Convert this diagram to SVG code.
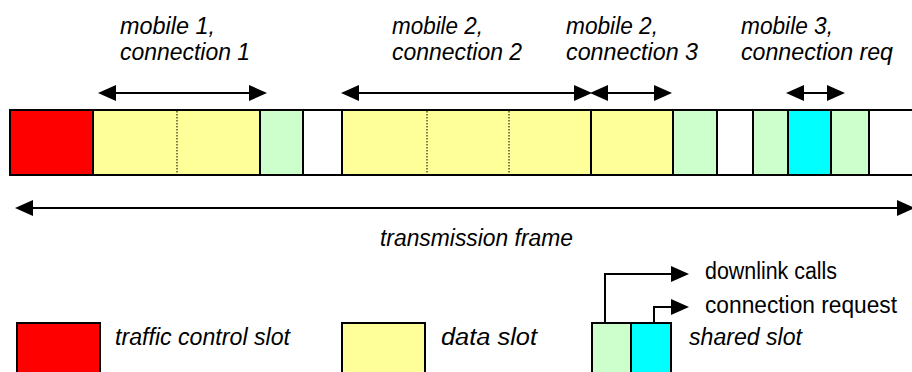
<svg xmlns="http://www.w3.org/2000/svg" width="912" height="372" viewBox="0 0 912 372">
<style>
.t{font-family:"Liberation Sans",Arial,sans-serif;font-size:23px;fill:#000}
.i{font-style:italic}
.cell{stroke:#000;stroke-width:2}
.dot{stroke:#000;stroke-width:1;stroke-dasharray:1.5,1.5}
.ln{stroke:#000;stroke-width:2;fill:none}
.red{fill:#FF0000}.yel{fill:#FFFF99}.grn{fill:#CCFFCC}.cyn{fill:#00FFFF}.wht{fill:#FFFFFF}
</style>
<defs>
<marker id="ah" markerUnits="userSpaceOnUse" markerWidth="18" markerHeight="16" refX="16" refY="8" orient="auto-start-reverse"><path d="M0,0 L18,8 L0,16 Z" fill="#000"/></marker>
</defs>
<rect width="912" height="372" fill="#fff"/>
<g id="frame">
<rect class="cell red" x="10" y="110" width="83" height="65"/>
<rect class="cell yel" x="93" y="110" width="167" height="65"/>
<line class="dot" x1="177" y1="111" x2="177" y2="174"/>
<rect class="cell grn" x="260" y="110" width="43" height="65"/>
<rect class="cell wht" x="303" y="110" width="39" height="65"/>
<rect class="cell yel" x="342" y="110" width="249" height="65"/>
<line class="dot" x1="427" y1="111" x2="427" y2="174"/>
<line class="dot" x1="509" y1="111" x2="509" y2="174"/>
<rect class="cell yel" x="591" y="110" width="82" height="65"/>
<rect class="cell grn" x="673" y="110" width="44" height="65"/>
<rect class="cell wht" x="717" y="110" width="36" height="65"/>
<rect class="cell grn" x="753" y="110" width="35" height="65"/>
<rect class="cell cyn" x="788" y="110" width="43" height="65"/>
<rect class="cell grn" x="831" y="110" width="38" height="65"/>
<rect class="cell wht" x="869" y="110" width="60" height="65"/>
</g>
<g id="labels">
<text class="t i" x="120" y="34" textLength="95" lengthAdjust="spacingAndGlyphs">mobile 1,</text>
<text class="t i" x="120" y="60" textLength="130" lengthAdjust="spacingAndGlyphs">connection 1</text>
<text class="t i" x="392" y="34" textLength="91" lengthAdjust="spacingAndGlyphs">mobile 2,</text>
<text class="t i" x="392" y="60" textLength="130" lengthAdjust="spacingAndGlyphs">connection 2</text>
<text class="t i" x="566" y="34" textLength="92" lengthAdjust="spacingAndGlyphs">mobile 2,</text>
<text class="t i" x="566" y="60" textLength="132" lengthAdjust="spacingAndGlyphs">connection 3</text>
<text class="t i" x="741" y="34" textLength="92" lengthAdjust="spacingAndGlyphs">mobile 3,</text>
<text class="t i" x="741" y="60" textLength="152" lengthAdjust="spacingAndGlyphs">connection req</text>
<text class="t i" x="380" y="246" textLength="193" lengthAdjust="spacingAndGlyphs">transmission frame</text>
</g>
<g id="connectors">
<line class="ln" x1="100" y1="93" x2="265" y2="93" marker-start="url(#ah)" marker-end="url(#ah)"/>
<line class="ln" x1="343" y1="93" x2="590" y2="93" marker-start="url(#ah)" marker-end="url(#ah)"/>
<line class="ln" x1="592" y1="93" x2="670" y2="93" marker-start="url(#ah)" marker-end="url(#ah)"/>
<line class="ln" x1="788" y1="93" x2="843" y2="93" marker-start="url(#ah)" marker-end="url(#ah)"/>
<line class="ln" x1="17" y1="208" x2="913" y2="208" marker-start="url(#ah)" marker-end="url(#ah)"/>
<polyline class="ln" points="605,323 605,274 687,274" marker-end="url(#ah)"/>
<polyline class="ln" points="654,323 654,307 687,307" marker-end="url(#ah)"/>
</g>
<g id="legend-traffic">
<rect class="cell red" x="17" y="323" width="83" height="60"/>
<text class="t i" x="115" y="345" textLength="175" lengthAdjust="spacingAndGlyphs">traffic control slot</text>
</g>
<g id="legend-data">
<rect class="cell yel" x="342" y="323" width="83" height="60"/>
<text class="t i" x="441" y="345" textLength="96" lengthAdjust="spacingAndGlyphs">data slot</text>
</g>
<g id="legend-shared">
<rect class="cell grn" x="592" y="323" width="39" height="60"/>
<rect class="cell cyn" x="631" y="323" width="40" height="60"/>
<text class="t i" x="689" y="345" textLength="113" lengthAdjust="spacingAndGlyphs">shared slot</text>
<text class="t" x="705" y="279" textLength="132" lengthAdjust="spacingAndGlyphs">downlink calls</text>
<text class="t" x="705" y="313" textLength="192" lengthAdjust="spacingAndGlyphs">connection request</text>
</g>
</svg>
